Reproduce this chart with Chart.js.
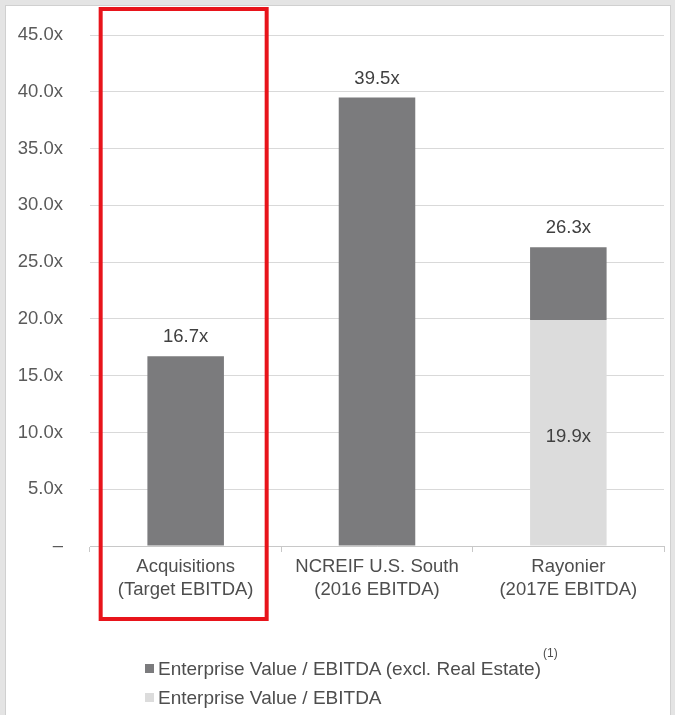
<!DOCTYPE html>
<html>
<head>
<meta charset="utf-8">
<script src="https://cdn.jsdelivr.net/npm/chart.js@4/dist/chart.umd.min.js"></script>
<style>
    html, body { margin: 0; padding: 0; }
    body { width: 675px; height: 715px; background: #e4e4e4; position: relative; overflow: hidden; font-family: "Liberation Sans", Arial, sans-serif; }
    .panel { position: absolute; left: 5px; top: 5px; width: 666px; height: 720px; background: #fff; border: 1px solid #d0d0d0; box-sizing: border-box; }
    #chart { position: absolute; left: 0; top: 0; }
    .legend { position: absolute; left: 145px; top: 654px; color: #4e4e4e; font-size: 19px; }
    .legend-item { display: flex; align-items: center; height: 29px; }
    .legend-box { width: 9px; height: 9px; margin-right: 4px; }
    .legend sup { font-size: 12px; position: relative; top: -12px; left: 2px; vertical-align: top; }
</style>
</head>
<body>
<div class="panel"></div>
<canvas id="chart" width="675" height="715"></canvas>
<div class="legend" id="legend"></div>

<script>
const categories = [
    ['Acquisitions', '(Target EBITDA)'],
    ['NCREIF U.S. South', '(2016 EBITDA)'],
    ['Rayonier', '(2017E EBITDA)']
];
// total EV / EBITDA excl. real estate (label on top of each bar)
const totalExclRealEstate = [16.7, 39.5, 26.3];
// EV / EBITDA incl. real estate (light segment)
const evEbitda = [null, null, 19.9];
const yTicks = [0, 5, 10, 15, 20, 25, 30, 35, 40, 45];

const DARK = '#7b7b7d';
const LIGHT = '#dcdcdc';
const FONT = '"Liberation Sans", Arial, sans-serif';

// dark part sits on top of the light part
const darkSegment = totalExclRealEstate.map((t, i) => +(t - (evEbitda[i] || 0)).toFixed(1));

const valueLabels = {
    id: 'valueLabels',
    afterDatasetsDraw(chart) {
        const ctx = chart.ctx;
        const darkMeta = chart.getDatasetMeta(1);
        const lightMeta = chart.getDatasetMeta(0);
        ctx.save();
        ctx.font = '18.5px ' + FONT;
        ctx.fillStyle = '#404040';
        ctx.textAlign = 'center';
        ctx.textBaseline = 'middle';
        darkMeta.data.forEach((bar, i) => {
            ctx.fillText(totalExclRealEstate[i].toFixed(1) + 'x', bar.x, bar.y - 19);
        });
        lightMeta.data.forEach((bar, i) => {
            if (evEbitda[i] == null) return;
            ctx.fillText(evEbitda[i].toFixed(1) + 'x', bar.x, (bar.y + bar.base) / 2 + 4);
        });
        ctx.restore();
    }
};

const highlightBox = {
    id: 'highlightBox',
    afterDraw(chart) {
        const ctx = chart.ctx;
        const cx = chart.scales.x.getPixelForValue(0);
        ctx.save();
        ctx.strokeStyle = '#e8141b';
        ctx.lineWidth = 4;
        ctx.strokeRect(cx - 85, 9, 166, 610);
        ctx.restore();
    }
};

const chart = new Chart(document.getElementById('chart'), {
    type: 'bar',
    data: {
        labels: categories,
        datasets: [
            {
                label: 'Enterprise Value / EBITDA',
                data: evEbitda,
                backgroundColor: LIGHT,
                barPercentage: 0.4,
                categoryPercentage: 1
            },
            {
                label: 'Enterprise Value / EBITDA (excl. Real Estate)',
                data: darkSegment,
                backgroundColor: DARK,
                barPercentage: 0.4,
                categoryPercentage: 1
            }
        ]
    },
    options: {
        responsive: false,
        animation: false,
        layout: {
            padding: { top: 35, right: 11, bottom: 99, left: 0 }
        },
        plugins: {
            legend: { display: false },
            tooltip: { enabled: false }
        },
        scales: {
            x: {
                stacked: true,
                grid: {
                    offset: true,
                    drawOnChartArea: false,
                    color: '#c8c8c8',
                    tickLength: 6
                },
                border: { color: '#c8c8c8' },
                ticks: {
                    color: '#4e4e4e',
                    padding: 3,
                    font: { family: FONT, size: 18.5, lineHeight: 1.25 }
                },
                afterFit(scale) { scale.height = 70; }
            },
            y: {
                stacked: true,
                min: 0,
                max: 45,
                afterBuildTicks(scale) { scale.ticks = yTicks.map(v => ({ value: v })); },
                grid: { color: '#d9d9d9', drawTicks: false },
                border: { display: false },
                ticks: {
                    color: '#5a5a5a',
                    padding: 27,
                    font: { family: FONT, size: 18.5 },
                    callback: v => v === 0 ? '–' : v.toFixed(1) + 'x'
                },
                afterFit(scale) {
                    scale.width = 90;
                    scale.paddingTop = 0;
                    scale.paddingBottom = 0;
                }
            }
        }
    },
    plugins: [valueLabels, highlightBox]
});

// legend: dark item first, light item below
const legendEl = document.getElementById('legend');
[1, 0].forEach(i => {
    const ds = chart.data.datasets[i];
    const item = document.createElement('div');
    item.className = 'legend-item';
    item.innerHTML = `<span class="legend-box" style="background:${ds.backgroundColor}"></span>` +
        `<span>${ds.label}${i === 1 ? '<sup>(1)</sup>' : ''}</span>`;
    legendEl.appendChild(item);
});
</script>
</body>
</html>
